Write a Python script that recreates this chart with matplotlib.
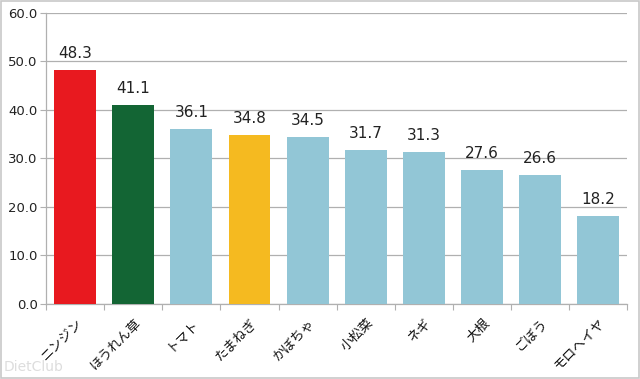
import matplotlib.pyplot as plt
from matplotlib.patches import Rectangle

plt.rcParams['font.family'] = ['Noto Sans CJK JP', 'DejaVu Sans']

# Data.
categories = ['ニンジン', 'ほうれん草', 'トマト', 'たまねぎ', 'かぼちゃ',
              '小松菜', 'ネギ', '大根', 'ごぼう', 'モロヘイヤ']
values = [48.3, 41.1, 36.1, 34.8, 34.5, 31.7, 31.3, 27.6, 26.6, 18.2]
barColors = ['#E8191F', '#136534', '#92C6D6', '#F5BA20', '#92C6D6',
             '#92C6D6', '#92C6D6', '#92C6D6', '#92C6D6', '#92C6D6']
yTicks = [0, 10, 20, 30, 40, 50, 60]

gridColor = '#B0B0B0'

fig = plt.figure(figsize=(6.4, 3.79), dpi=100)
ax = fig.add_axes([0.072, 0.198, 0.908, 0.768])

xs = list(range(len(categories)))
ax.bar(xs, values, width=0.72, color=barColors, zorder=3)
for x, v in zip(xs, values):
    ax.text(x, v + 1.8, f'{v:.1f}', ha='center', va='bottom',
            fontsize=11, color='#222222', family='DejaVu Sans', zorder=4)

ax.set_xlim(-0.5, len(categories) - 0.5)
ax.set_ylim(0, 60)
ax.set_yticks(yTicks)
ax.set_yticklabels([f'{t:.1f}' for t in yTicks], family='DejaVu Sans',
                   fontsize=9.5, color='#222222')
ax.yaxis.grid(True, color=gridColor, linewidth=0.9, zorder=0)

# Category ticks sit between the bars.
ax.set_xticks([x - 0.5 for x in xs] + [len(categories) - 0.5])
ax.set_xticklabels([])
ax.tick_params(axis='x', length=4, color=gridColor)
ax.tick_params(axis='y', length=4, color=gridColor, pad=2)
for x, name in zip(xs, categories):
    ax.text(x + 0.02, -2.6, name, rotation=45, ha='right', va='top',
            rotation_mode='anchor', fontsize=9.5, color='#111111')

for side in ['top', 'right']:
    ax.spines[side].set_visible(False)
for side in ['left', 'bottom']:
    ax.spines[side].set_color(gridColor)
    ax.spines[side].set_linewidth(0.9)

# Faint watermark and outer frame.
fig.text(0.005, 0.02, 'DietClub', fontsize=10, color='#DDDDDD',
         family='DejaVu Sans')
fig.patches.append(Rectangle((0.002, 0.003), 0.996, 0.994,
                             transform=fig.transFigure, fill=False,
                             edgecolor='#C8C8C8', linewidth=1.2))

fig.savefig('out.png', dpi=100)
